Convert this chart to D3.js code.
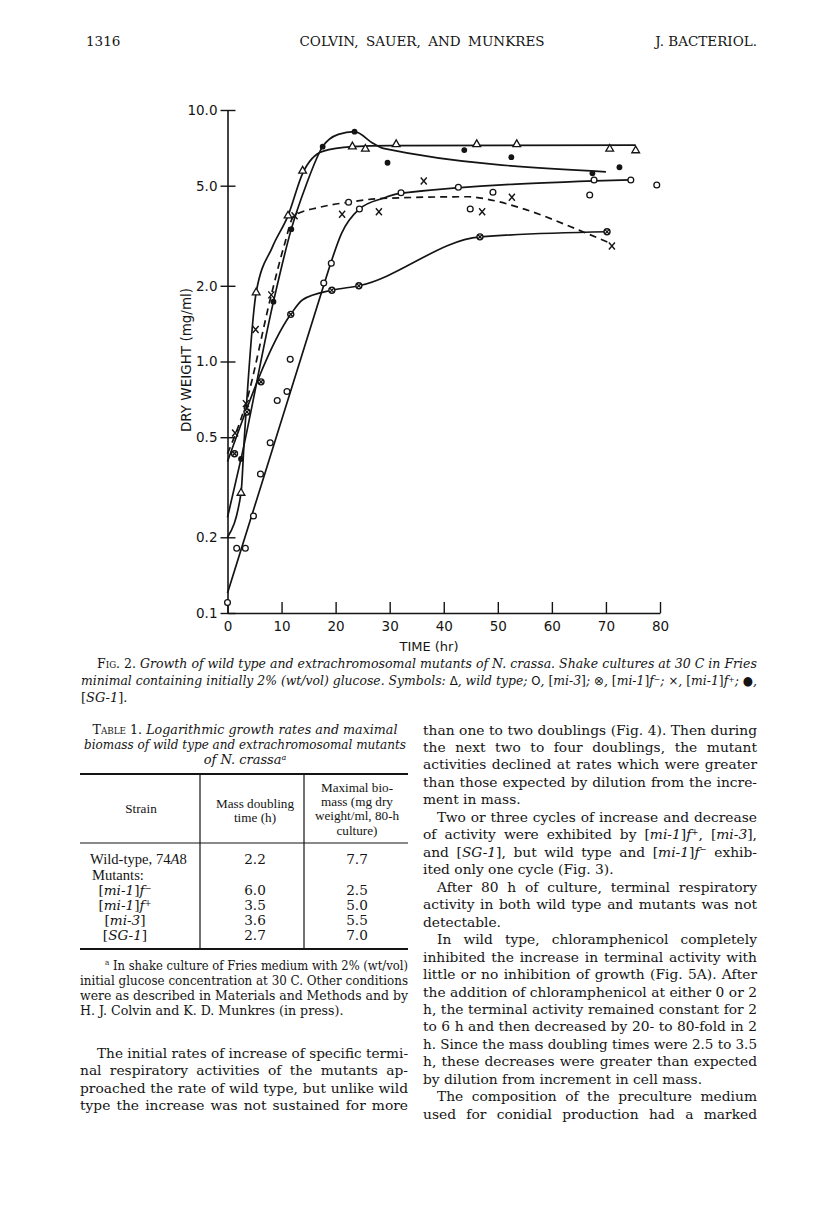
<!DOCTYPE html>
<html><head><meta charset="utf-8">
<script src="https://cdn.jsdelivr.net/npm/d3@7"></script>
<style>body{margin:0;background:#fff}svg{display:block}</style>
</head><body>
<svg id="page" width="816" height="1227"></svg>
<script>
// ---------------- DATA ----------------
const xTicks = [0, 10, 20, 30, 40, 50, 60, 70, 80];
const yTicks = [0.1, 0.2, 0.5, 1, 2, 5, 10];
const yTickLabels = ["0.1", "0.2", "0.5", "1.0", "2.0", "5.0", "10.0"];

// wild type (open triangles, solid line)
const wildTypePoints = [[2.5,0.30],[5.3,1.88],[11.2,3.8],[13.9,5.73],[23.1,7.15],[25.5,7.0],[31.2,7.3],[46.1,7.3],[53.5,7.3],[70.7,7.0],[75.5,6.9]];
const wildTypeCurve  = [[0,0.20],[2.5,0.30],[3.1,0.49],[5.3,1.88],[8.3,2.85],[11.2,3.8],[13.9,5.6],[17.6,6.85],[23.1,7.15],[30,7.22],[75.5,7.25]];
// [mi-3] (open circles, solid line)
const mi3Points = [[0,0.11],[1.7,0.181],[3.3,0.181],[4.8,0.243],[6.1,0.357],[7.9,0.475],[9.2,0.70],[11,0.76],[11.6,1.02],[17.8,2.05],[19.2,2.46],[22.4,4.3],[24.4,4.04],[32.1,4.69],[42.7,4.93],[44.9,4.04],[49.1,4.71],[67,4.59],[67.8,5.27],[74.6,5.27],[79.4,5.03]];
const mi3Curve  = [[0,0.12],[17.96,2.06],[19.2,2.5],[21.1,3.23],[24.4,4.04],[28.8,4.46],[32.2,4.67],[74.6,5.27]];
// [mi-1]f- (crossed circles, solid line)
const mi1fMinusPoints = [[1.3,0.43],[3.6,0.63],[6.2,0.83],[11.7,1.54],[19.3,1.92],[24.3,2.0],[46.7,3.13],[70.2,3.28]];
const mi1fMinusCurve  = [[0,0.40],[11.7,1.54],[13.9,1.76],[19.3,1.92],[24.3,2.0],[46.7,3.13],[70.2,3.28]];
// [mi-1]f+ (x, dashed line)
const mi1fPlusPoints = [[1.4,0.52],[3.4,0.68],[5.2,1.34],[8.1,1.84],[12.4,3.8],[21.2,3.85],[28,3.94],[36.3,5.22],[47.1,3.94],[52.6,4.5],[71.1,2.88]];
const mi1fPlusCurve  = [[0,0.43],[3.4,0.68],[8.1,1.84],[10.5,2.9],[12.3,3.8],[17,4.1],[22.4,4.3],[28.6,4.45],[44.6,4.52],[48,4.42],[54.5,4.06],[65,3.33],[70.5,2.97]];
// [SG-1] (filled circles, solid line)
const sg1Points = [[2.5,0.41],[8.5,1.73],[11.8,3.36],[17.6,7.15],[23.5,8.2],[29.6,6.17],[43.8,6.93],[52.5,6.49],[67.5,5.6],[72.5,5.92]];
const sg1Curve  = [[0,0.24],[2.5,0.41],[8.5,1.73],[11.8,3.36],[14.5,5.0],[17.6,7.15],[20.5,8.0],[23.5,8.2],[26.9,7.37],[28.8,7.04],[70,5.68]];

// Table 1
const tableStrains  = ["[*mi-1*]*f*^{−}", "[*mi-1*]*f*^{+}", "[*mi-3*]", "[*SG-1*]"];
const tableDoubling = ["6.0", "3.5", "3.6", "2.7"];
const tableBiomass  = ["2.5", "5.0", "5.5", "7.0"];
const wildTypeRow   = ["Wild-type, 74*A*8", "2.2", "7.7"];
const tableHeadMaxBiomass = ["Maximal bio-", "mass (mg dry", "weight/ml, 80-h", "culture)"];

// text content
const headerTexts = ["1316", "COLVIN, SAUER, AND MUNKRES", "J. BACTERIOL."];
const captionLines = [
  ["~Fig. 2.~ Growth of wild type and extrachromosomal mutants of N. crassa. Shake cultures at 30 C in Fries", true],
  ["minimal containing initially 2% (wt/vol) glucose. Symbols: #Δ#, wild type; #O#, *[*mi-3*]*; #⊗#, *[*mi-1*]*f^{−}; #×#, *[*mi-1*]*f^{+}; #●#,", true],
  ["*[*SG-1*]*.", false]
];
const tableTitleLines = [
  "~Table~ *1.* Logarithmic growth rates and maximal",
  "biomass of wild type and extrachromosomal mutants",
  "of N. crassa^{a}"
];
const footnoteLines = [
  ["^{a} In shake culture of Fries medium with 2% (wt/vol)", true, 1],
  ["initial glucose concentration at 30 C. Other conditions", true, 0],
  ["were as described in Materials and Methods and by", true, 0],
  ["H. J. Colvin and K. D. Munkres (in press).", false, 0]
];
const leftBodyLines = [
  ["The initial rates of increase of specific termi-", true, 1],
  ["nal respiratory activities of the mutants ap-", true, 0],
  ["proached the rate of wild type, but unlike wild", true, 0],
  ["type the increase was not sustained for more", true, 0]
];
const rightBodyLines = [
  ["than one to two doublings (Fig. 4). Then during", true, 0],
  ["the next two to four doublings, the mutant", true, 0],
  ["activities declined at rates which were greater", true, 0],
  ["than those expected by dilution from the incre-", true, 0],
  ["ment in mass.", false, 0],
  ["Two or three cycles of increase and decrease", true, 1],
  ["of activity were exhibited by [*mi-1*]*f*^{+}, [*mi-3*],", true, 0],
  ["and [*SG-1*], but wild type and [*mi-1*]*f*^{−} exhib-", true, 0],
  ["ited only one cycle (Fig. 3).", false, 0],
  ["After 80 h of culture, terminal respiratory", true, 1],
  ["activity in both wild type and mutants was not", true, 0],
  ["detectable.", false, 0],
  ["In wild type, chloramphenicol completely", true, 1],
  ["inhibited the increase in terminal activity with", true, 0],
  ["little or no inhibition of growth (Fig. 5A). After", true, 0],
  ["the addition of chloramphenicol at either 0 or 2", true, 0],
  ["h, the terminal activity remained constant for 2", true, 0],
  ["to 6 h and then decreased by 20- to 80-fold in 2", true, 0],
  ["h. Since the mass doubling times were 2.5 to 3.5", true, 0],
  ["h, these decreases were greater than expected", true, 0],
  ["by dilution from increment in cell mass.", false, 0],
  ["The composition of the preculture medium", true, 1],
  ["used for conidial production had a marked", true, 0]
];

// ---------------- DRAWING ----------------
const SERIF = "'DejaVu Serif', 'Liberation Serif', serif";
const TIMES = "'Liberation Serif', 'Times New Roman', serif";
const SANS = "'DejaVu Sans', sans-serif";
const INK = "#141414";
const svg = d3.select("#page");
svg.append("rect").attr("width", 816).attr("height", 1227).attr("fill", "#fff");

const TOKEN = /(\*[^*]+\*|\^\{[^}]*\}|~[^~]+~|#[^#]+#)/g;
function rich(parent, x, y, str, o) {
  const rise = o.rise || 0.32;
  const t = parent.append("text").attr("x", x).attr("y", y)
    .attr("font-family", o.family || SERIF).attr("font-size", o.size)
    .attr("font-style", o.italic ? "italic" : "normal")
    .attr("text-anchor", o.anchor || "start").attr("fill", INK);
  const parts = str.split(TOKEN).filter(s => s.length);
  let reset = 0;
  parts.forEach(p => {
    let ts;
    if (p.startsWith("^{")) {
      ts = t.append("tspan").text(p.slice(2, -1)).attr("font-size", o.size * 0.62)
        .attr("dy", -o.size * rise + reset);
      reset = o.size * rise;
      return;
    }
    if (p[0] === "*") ts = t.append("tspan").text(p.slice(1, -1)).attr("font-style", o.italic ? "normal" : "italic");
    else if (p[0] === "~") ts = t.append("tspan").text(p.slice(1, -1)).attr("font-variant", "small-caps").attr("font-style", "normal");
    else if (p[0] === "#") ts = t.append("tspan").text(p.slice(1, -1)).attr("font-family", SANS)
      .attr("font-style", "normal").attr("font-size", o.size * 0.95);
    else ts = t.append("tspan").text(p);
    if (reset) { ts.attr("dy", reset); reset = 0; }
  });
  const natural = t.node().getComputedTextLength();
  if (o.width) {
    const visible = str.replace(/\*|~|#|\^\{|\}/g, "");
    const n = (visible.match(/ /g) || []).length;
    if (natural > o.width) {
      t.attr("textLength", o.width).attr("lengthAdjust", "spacingAndGlyphs");
    } else if (n > 0) {
      t.style("word-spacing", ((o.width - natural) / n) + "px");
    }
  } else if (o.maxWidth && natural > o.maxWidth) {
    t.attr("textLength", o.maxWidth).attr("lengthAdjust", "spacingAndGlyphs");
  }
  return t;
}

// header
rich(svg, 86, 46, headerTexts[0], {size: 13.5});
rich(svg, 422, 46, headerTexts[1], {size: 13.5, anchor: "middle", width: 245});
rich(svg, 757, 46, headerTexts[2], {size: 13.5, anchor: "end"});

// ---------- chart ----------
const x = d3.scaleLinear().domain([0, 80]).range([227.5, 660]);
const y = d3.scaleLog().domain([0.1, 10]).range([613, 110]);
const chart = svg.append("g");

const ya = chart.append("g").attr("transform", "translate(227.5,0)")
  .call(d3.axisLeft(y).tickValues(yTicks).tickFormat((d, i) => yTickLabels[i])
    .tickSizeInner(7).tickSizeOuter(0).tickPadding(3));
ya.attr("font-family", SANS).attr("font-size", 13.5);
ya.selectAll(".tick line").attr("x1", 8).attr("stroke-width", 1.4).attr("stroke", INK);
ya.select(".domain").attr("stroke-width", 1.6).attr("stroke", INK);
ya.selectAll("text").attr("fill", INK);

const xa = chart.append("g").attr("transform", "translate(0,613)")
  .call(d3.axisBottom(x).tickValues(xTicks).tickSizeInner(-11).tickSizeOuter(0).tickPadding(8));
xa.attr("font-family", SANS).attr("font-size", 13.5);
xa.selectAll(".tick line").attr("stroke-width", 1.4).attr("stroke", INK);
xa.select(".domain").attr("stroke-width", 1.6).attr("stroke", INK);
xa.selectAll("text").attr("fill", INK);

chart.append("text").attr("transform", "translate(191,360) rotate(-90)")
  .attr("text-anchor", "middle").attr("font-family", SANS).attr("font-size", 13.5)
  .attr("fill", INK).text("DRY WEIGHT (mg/ml)");
chart.append("text").attr("x", 429).attr("y", 651)
  .attr("text-anchor", "middle").attr("font-family", SANS).attr("font-size", 13)
  .attr("fill", INK).text("TIME (hr)");

const line = d3.line().x(d => x(d[0])).y(d => y(d[1])).curve(d3.curveMonotoneX);
const curves = [
  [wildTypeCurve, null], [mi3Curve, null], [mi1fMinusCurve, null],
  [mi1fPlusCurve, "7,5"], [sg1Curve, null]
];
curves.forEach(([data, dash]) => {
  chart.append("path").datum(data).attr("d", line).attr("fill", "none")
    .attr("stroke", INK).attr("stroke-width", 1.7)
    .attr("stroke-dasharray", dash);
});

const tri = d3.symbol(d3.symbolTriangle, 26);
chart.append("g").selectAll("path").data(wildTypePoints).join("path")
  .attr("d", tri).attr("transform", d => `translate(${x(d[0])},${y(d[1])})`)
  .attr("fill", "#fff").attr("stroke", INK).attr("stroke-width", 1.3);
chart.append("g").selectAll("circle").data(mi3Points).join("circle")
  .attr("cx", d => x(d[0])).attr("cy", d => y(d[1])).attr("r", 2.9)
  .attr("fill", "#fff").attr("stroke", INK).attr("stroke-width", 1.3);
const fm = chart.append("g").selectAll("g").data(mi1fMinusPoints).join("g")
  .attr("transform", d => `translate(${x(d[0])},${y(d[1])})`);
fm.append("circle").attr("r", 3).attr("fill", "#fff").attr("stroke", INK).attr("stroke-width", 1.4);
fm.append("path").attr("d", "M-2.1,-2.1L2.1,2.1M-2.1,2.1L2.1,-2.1").attr("stroke", INK).attr("stroke-width", 1.3);
chart.append("g").selectAll("path").data(mi1fPlusPoints).join("path")
  .attr("transform", d => `translate(${x(d[0])},${y(d[1])})`)
  .attr("d", "M-3,-3.5L3,3.5M-3,3.5L3,-3.5").attr("stroke", INK).attr("stroke-width", 1.4);
chart.append("g").selectAll("circle").data(sg1Points).join("circle")
  .attr("cx", d => x(d[0])).attr("cy", d => y(d[1])).attr("r", 2.9).attr("fill", INK);

// ---------- caption ----------
captionLines.forEach((l, i) => {
  const x0 = i === 0 ? 97 : 81;
  rich(svg, x0, 668 + i * 17, l[0], {size: 13, italic: true, rise: 0.2, width: l[1] ? 757 - x0 : null});
});

// ---------- table ----------
const titleWidths = [305, 322, null];
tableTitleLines.forEach((l, i) => {
  rich(svg, 245, 734 + i * 15, l, {size: 13, italic: true, anchor: "middle", maxWidth: titleWidths[i]});
});
const tbl = svg.append("g");
tbl.append("line").attr("x1", 80).attr("x2", 408).attr("y1", 774).attr("y2", 774).attr("stroke", INK).attr("stroke-width", 2.2);
tbl.append("line").attr("x1", 80).attr("x2", 408).attr("y1", 843).attr("y2", 843).attr("stroke", INK).attr("stroke-width", 1.2);
tbl.append("line").attr("x1", 80).attr("x2", 408).attr("y1", 949).attr("y2", 949).attr("stroke", INK).attr("stroke-width", 2.2);
[200, 304].forEach(vx => tbl.append("line").attr("x1", vx).attr("x2", vx).attr("y1", 774).attr("y2", 949).attr("stroke", INK).attr("stroke-width", 1.2));
rich(tbl, 141, 812.5, "Strain", {size: 13.2, family: TIMES, anchor: "middle"});
rich(tbl, 255, 808, "Mass doubling", {size: 13.2, family: TIMES, anchor: "middle"});
rich(tbl, 255, 821.5, "time (h)", {size: 13.2, family: TIMES, anchor: "middle"});
tableHeadMaxBiomass.forEach((s, i) =>
  rich(tbl, 357, 792 + i * 14.2, s, {size: 13.2, family: TIMES, anchor: "middle", maxWidth: 90}));
rich(tbl, 90, 864, wildTypeRow[0], {size: 14.6, family: TIMES});
rich(tbl, 255, 864, wildTypeRow[1], {size: 13.6, anchor: "middle"});
rich(tbl, 357, 864, wildTypeRow[2], {size: 13.6, anchor: "middle"});
rich(tbl, 92, 880, "Mutants:", {size: 14.6, family: TIMES});
tableStrains.forEach((s, i) => {
  const yy = 895 + i * 15;
  rich(tbl, 125, yy, s, {size: 13.6, anchor: "middle"});
  rich(tbl, 255, yy, tableDoubling[i], {size: 13.6, anchor: "middle"});
  rich(tbl, 357, yy, tableBiomass[i], {size: 13.6, anchor: "middle"});
});
footnoteLines.forEach((l, i) => {
  const x0 = l[2] ? 105 : 80;
  rich(svg, x0, 969.5 + i * 15, l[0], {size: 12.6, width: l[1] ? 408 - x0 : null});
});

// ---------- body text ----------
leftBodyLines.forEach((l, i) => {
  const x0 = l[2] ? 97 : 80;
  rich(svg, x0, 1057.5 + i * 17.5, l[0], {size: 13.8, width: l[1] ? 408 - x0 : null});
});
rightBodyLines.forEach((l, i) => {
  const x0 = l[2] ? 437 : 423;
  rich(svg, x0, 734.5 + i * 17.47, l[0], {size: 13.8, width: l[1] ? 757 - x0 : null});
});
</script>
</body></html>
